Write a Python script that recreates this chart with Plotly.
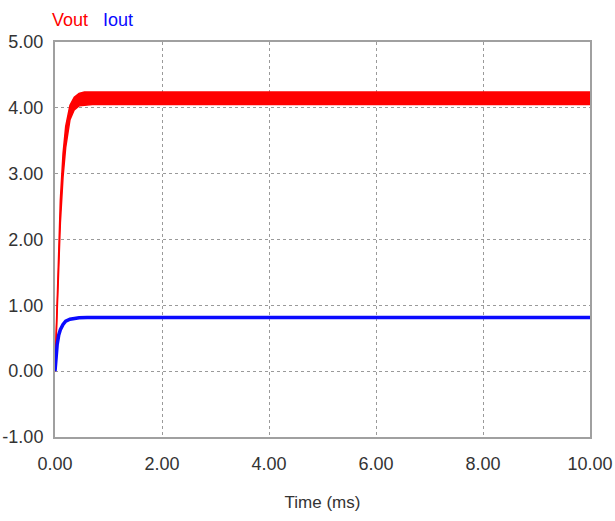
import plotly.graph_objects as go

# Output voltage ripple envelope (V) vs time (ms)
t_vout = [0, 0.02, 0.04, 0.07, 0.10, 0.15, 0.20, 0.28, 0.36, 0.45, 0.55, 0.70, 1.0, 10.0]
vout_low = [0, 0.50, 1.00, 1.65, 2.25, 2.95, 3.40, 3.82, 3.97, 4.03, 4.04, 4.05, 4.05, 4.05]
vout_high = [0, 0.60, 1.20, 1.95, 2.60, 3.30, 3.72, 4.04, 4.16, 4.22, 4.24, 4.24, 4.24, 4.24]

# Output current (A) vs time (ms)
t_iout = [0, 0.01, 0.02, 0.04, 0.07, 0.10, 0.15, 0.20, 0.28, 0.36, 0.45, 0.60, 10.0]
iout = [0, 0.14, 0.25, 0.40, 0.55, 0.63, 0.71, 0.76, 0.79, 0.805, 0.812, 0.815, 0.815]

x_ticks = [0, 2, 4, 6, 8, 10]
y_ticks = [-1, 0, 1, 2, 3, 4, 5]

RED = "#ff0000"
BLUE = "#0a0aff"
FONT = "Liberation Sans, Arial, sans-serif"

fig = go.Figure()
fig.add_trace(go.Scatter(x=t_vout, y=vout_low, mode="lines",
                         line=dict(color=RED, width=1.5), showlegend=False,
                         hoverinfo="skip"))
fig.add_trace(go.Scatter(x=t_vout, y=vout_high, mode="lines", fill="tonexty",
                         fillcolor=RED, line=dict(color=RED, width=1.5),
                         name="Vout", showlegend=False))
fig.add_trace(go.Scatter(x=t_iout, y=iout, mode="lines",
                         line=dict(color=BLUE, width=3.5), name="Iout",
                         showlegend=False))

axis_common = dict(
    showgrid=True, gridcolor="#9a9a9a", griddash="dot", gridwidth=1,
    showline=True, linecolor="#a0a0a0", linewidth=2, mirror=True,
    zeroline=False, ticks="", automargin=False,
    tickfont=dict(family=FONT, size=18, color="#333333"),
)

fig.update_xaxes(range=[0, 10], tickvals=x_ticks,
                 ticktext=[f"{v:.2f}" for v in x_ticks], ticklabelstandoff=9,
                 title=dict(text="Time (ms)", font=dict(family=FONT, size=17, color="#333333"),
                            standoff=24),
                 **axis_common)
fig.update_yaxes(range=[-1, 5], tickvals=y_ticks,
                 ticktext=[f"{v:.2f}" for v in y_ticks], ticklabelstandoff=6,
                 **axis_common)

fig.add_annotation(x=0, y=1, xref="paper", yref="paper", xanchor="left", yanchor="bottom",
                   xshift=-5, yshift=10, showarrow=False,
                   text=f"<span style='color:{RED}'>Vout</span>&nbsp;&nbsp;&nbsp;"
                        f"<span style='color:{BLUE}'>Iout</span>",
                   font=dict(family=FONT, size=18))

fig.update_layout(
    width=615, height=521,
    margin=dict(l=55, r=25, t=42, b=84),
    paper_bgcolor="white", plot_bgcolor="white",
)

fig.write_html("out.html")
